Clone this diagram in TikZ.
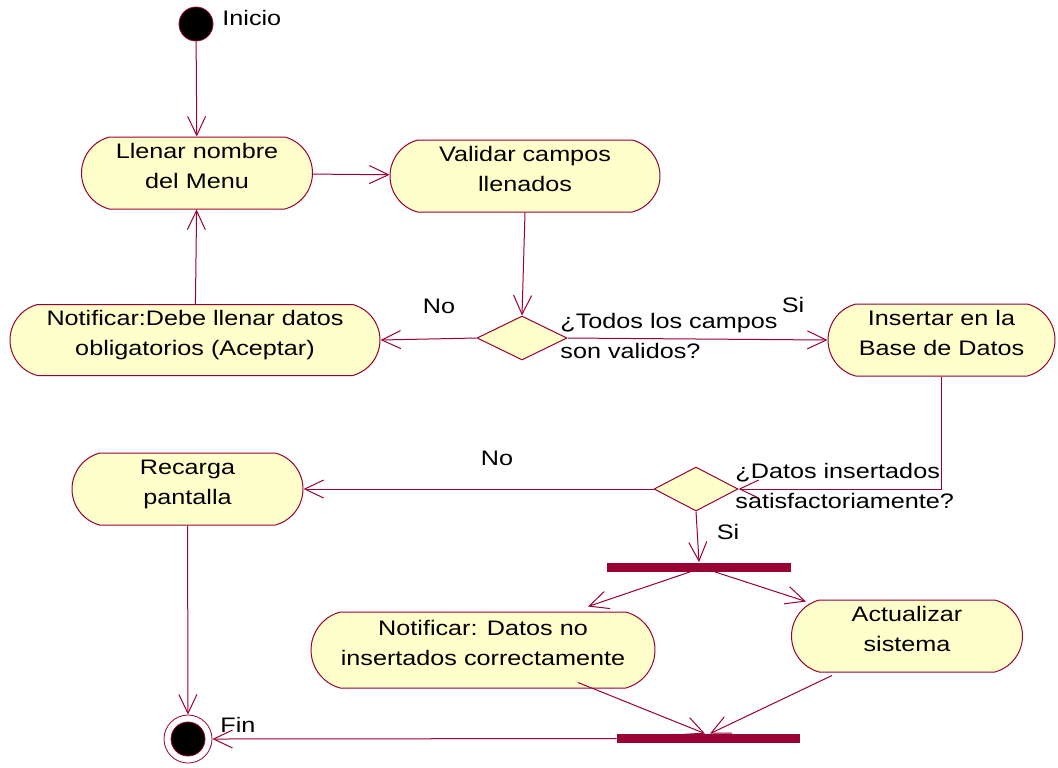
\documentclass[tikz,border=0pt]{standalone}
\usepackage{fontspec}
\setmainfont{Liberation Sans}[FakeStretch=1.2]
\usetikzlibrary{arrows.meta,calc,shapes.misc,shapes.geometric}
\definecolor{rosered}{RGB}{153,0,51}
\definecolor{roseyellow}{RGB}{255,255,204}

\begin{document}
\begin{tikzpicture}[x=0.5pt,y=-0.5pt,line join=round,
 font=\fontsize{10.5}{15}\selectfont,
 act/.style={rounded rectangle,rounded rectangle arc length=150,draw=rosered,
  fill=roseyellow,line width=0.5pt,minimum width=117.5pt,minimum height=36pt,
  align=center,inner sep=1pt,text height=22.6pt,text depth=7pt},
 dec/.style={diamond,draw=rosered,fill=roseyellow,line width=0.5pt,
  minimum width=45pt,minimum height=22pt,inner sep=0pt},
 syncbar/.style={rectangle,fill=rosered,minimum width=92pt,minimum height=4.5pt,inner sep=0pt},
 flow/.style={rosered,line width=0.5pt,-{Straight Barb[length=9.5pt,width=9pt]}},
 lbl/.style={inner sep=0pt,align=left}]
 \useasboundingbox (0,0) rectangle (1058,767);
 % start and end
 \node[circle,fill=black,draw=rosered,minimum size=17pt,inner sep=0pt] (inicio) at (196,24) {};
 \node[lbl,anchor=west] (inicioT) at (222,18) {Inicio};
 \node[circle,draw=rosered,fill=white,minimum size=24pt,inner sep=0pt] (fin) at (188,739) {};
 \fill[black,draw=rosered] (fin.center) circle[radius=8.5pt];
 \node[lbl,anchor=west] (finT) at (220,725) {Fin};
 % activities
 \node[act] (llenar) at (197,173) {Llenar nombre\\del Menu};
 \node[act,minimum width=137pt] (validar) at (525,176) {Validar campos\\llenados};
 \node[act,minimum width=187pt,minimum height=35.5pt] (notif1) at (195,340) {Notificar:Debe llenar datos\\obligatorios (Aceptar)};
 \node[act,minimum width=115.5pt] (insertar) at (941.5,340) {Insertar en la\\Base de Datos};
 \node[act] (recarga) at (187.5,489) {Recarga\\pantalla};
 \node[act,minimum width=174pt,minimum height=38pt] (notif2) at (483,650) {Notificar: Datos no\\insertados correctamente};
 \node[act] (actualizar) at (907,636) {Actualizar\\sistema};
 % decisions and bars
 \node[dec] (dec1) at (522,338) {};
 \node[dec,minimum width=42pt] (dec2) at (696,489) {};
 \node[syncbar] (fork) at (699,567) {};
 \node[syncbar,minimum width=91.5pt] (join) at (708.5,738.5) {};
 % guard texts
 \node[lbl,anchor=west] (q1) at (560,336) {¿Todos los campos\\son validos?};
 \node[lbl,anchor=west] (q2) at (735,486) {¿Datos insertados\\satisfactoriamente?};
 \node[lbl] (no1) at (439,306) {No};
 \node[lbl] (si1) at (793,305) {Si};
 \node[lbl] (no2) at (497,458) {No};
 \node[lbl] (si2) at (728,532) {Si};
 % flows
 \draw[flow] (inicio) -- (llenar);
 \draw[flow] (llenar) -- (validar);
 \draw[flow] (validar.south) -- (dec1.north);
 \draw[flow] (dec1.west) -- (notif1.east);
 \draw[flow] (notif1) -- (llenar);
 \draw[flow] (dec1.east) -- (insertar.west);
 \draw[flow] (insertar.south) |- (dec2.east);
 \draw[flow] (dec2.west) -- (recarga.east);
 \draw[flow] (dec2.south) -- (fork.north);
 \draw[flow] ([xshift=-4.5pt]fork.south) -- ([xshift=52.5pt,yshift=2.5pt]notif2.north);
 \draw[flow] ([xshift=8pt]fork.south) -- ([xshift=-50.5pt,yshift=-1pt]actualizar.north);
 \draw[flow] ([xshift=47.5pt,yshift=3pt]notif2.south) -- ([xshift=-1.75pt]join.north);
 \draw[flow] ([xshift=-37.5pt,yshift=-1.5pt]actualizar.south) -- ([xshift=0.75pt]join.north);
 \draw[flow] (join.west) -- (fin.east);
 \draw[flow] (recarga) -- (fin);
\end{tikzpicture}
\end{document}
